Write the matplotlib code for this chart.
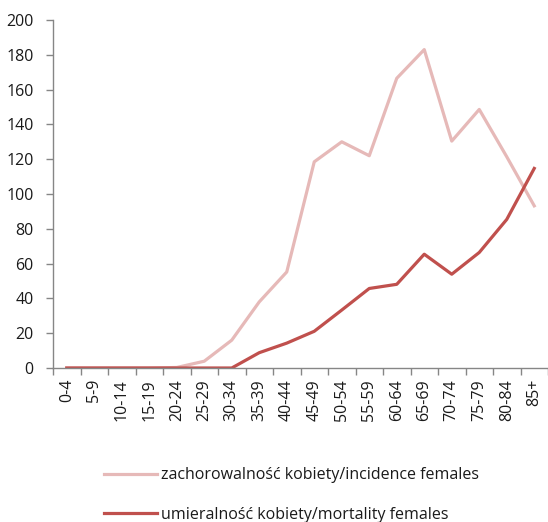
import matplotlib
matplotlib.use("Agg")
import matplotlib.pyplot as plt
import numpy as np

categories = ["0-4", "5-9", "10-14", "15-19", "20-24", "25-29", "30-34", "35-39",
              "40-44", "45-49", "50-54", "55-59", "60-64", "65-69", "70-74",
              "75-79", "80-84", "85+"]
incidence = [0, 0, 0, 0, 0.3, 3.9, 16, 38, 55.2, 118.5, 130, 122, 166.5, 183,
             130.4, 148.6, 121.4, 93.2]
mortality = [0, 0, 0, 0, 0, 0, 0, 8.8, 14.3, 21.1, 33.3, 45.7, 48.1, 65.4,
             53.9, 66.4, 85.4, 114.7]
yticks = [0, 20, 40, 60, 80, 100, 120, 140, 160, 180, 200]
labels = ["zachorowalność kobiety/incidence females",
          "umieralność kobiety/mortality females"]

FS = 11.5
plt.rcParams['font.family'] = ['Open Sans', 'DejaVu Sans']
fig = plt.figure(figsize=(5.48, 5.22), dpi=100)
ax = fig.add_axes([53/548, 1-368/522, 495/548, 348/522])

x = np.arange(len(categories))
l1, = ax.plot(x, incidence, color='#E6B9B8', lw=2.3, solid_joinstyle='round')
l2, = ax.plot(x, mortality, color='#C0504D', lw=2.3, solid_joinstyle='round')

ax.set_xlim(-0.5, len(categories) - 0.5)
ax.set_ylim(0, 200)
ax.set_yticks(yticks)
ax.set_yticklabels([str(v) for v in yticks], fontsize=FS, color='#1a1a1a')
ax.set_xticks(x)
ax.set_xticklabels(categories, rotation=90, fontsize=FS, color='#1a1a1a')
ax.set_xticks(np.arange(-0.5, len(categories)), minor=True)
ax.tick_params(axis='x', which='major', length=0, pad=8)
ax.tick_params(axis='x', which='minor', length=5, color='#868686', width=1)
ax.tick_params(axis='y', length=5, color='#868686', width=1, pad=9)

for s in ['top', 'right']:
    ax.spines[s].set_visible(False)
for s in ['left', 'bottom']:
    ax.spines[s].set_color('#868686')
    ax.spines[s].set_linewidth(1)

fig.legend([l1, l2], labels, loc='center left', bbox_to_anchor=(104/548, 1-495/522),
           frameon=False, fontsize=FS, handlelength=3.3, handletextpad=0.25,
           labelspacing=1.45, borderpad=0, borderaxespad=0, labelcolor='#1a1a1a')

fig.savefig("out.png", dpi=100)
